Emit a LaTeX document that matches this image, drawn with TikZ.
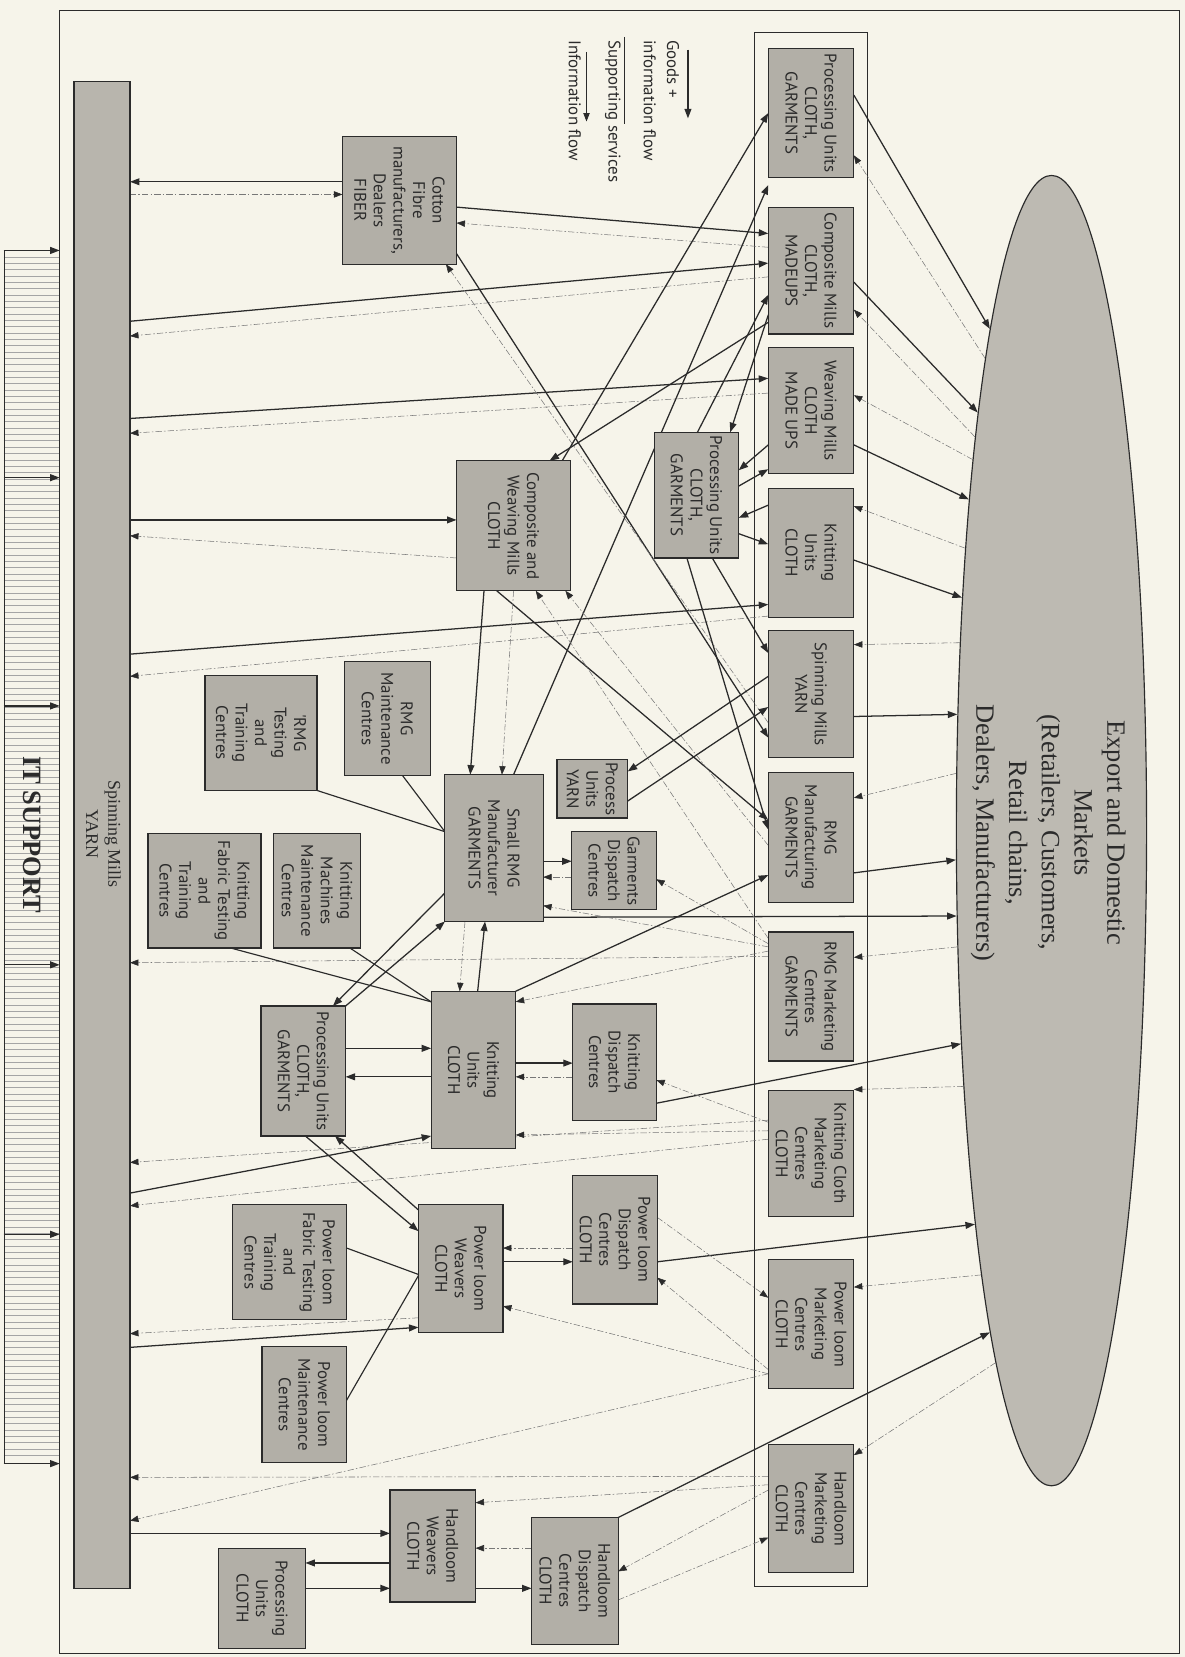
\documentclass[tikz,border=0pt]{standalone}
\usepackage{fontspec}
\setmainfont{Liberation Serif}
\newfontfamily\cellfont{PT Sans}
\usetikzlibrary{arrows.meta,shapes.geometric,backgrounds}
\definecolor{paper}{HTML}{F6F4EA}
\definecolor{cellgray}{HTML}{B2AFA7}
\definecolor{mktgray}{HTML}{BDBAB2}
\definecolor{bargray}{HTML}{B8B5AD}
\definecolor{ink}{HTML}{2B2B2B}
\definecolor{infogray}{HTML}{777777}
\definecolor{hatchgray}{HTML}{A5A5A5}

\begin{document}
\begin{tikzpicture}[x=1pt,y=-1pt,
    cell/.style={draw=ink,line width=1.1pt,fill=cellgray,inner sep=0pt,outer sep=0pt},
    celltext/.style={rotate=-90,align=center,inner sep=0pt,text=ink,
      font=\cellfont\fontsize{16}{18.5}\selectfont},
    legendtext/.style={rotate=-90,anchor=west,inner sep=0pt,text=ink,
      font=\cellfont\fontsize{16}{18.5}\selectfont},
    goods/.style={draw=ink,line width=1.2pt,-{Triangle[length=9pt,width=6.5pt]}},
    support/.style={draw=ink,line width=1.1pt},
    info/.style={draw=infogray,line width=0.5pt,
      dash pattern=on 6pt off 2pt on 1.5pt off 2pt,
      -{Triangle[length=8pt,width=6pt,color=ink]}}]
  \useasboundingbox (0,0) rectangle (1121,1568);

  % markets
  \node[ellipse,draw=ink,line width=1.1pt,fill=mktgray,inner sep=0pt,
    minimum width=180pt,minimum height=1240pt] (mk) at (995,786) {};
  \node[rotate=-90,align=center,text=ink,font=\fontsize{25}{31}\selectfont]
    (mk-t) at (992,788) {Export and Domestic\\Markets\\(Retailers, Customers,\\Retail chains,\\Dealers, Manufacturers)};

  % spinning mills bar and IT support
  \node[cell,fill=bargray,minimum width=53pt,minimum height=1426pt] (spin) at (96.5,790) {};
  \node[rotate=-90,align=center,text=ink,font=\fontsize{17}{21}\selectfont]
    (spin-t) at (98,789) {Spinning Mills\\YARN};
  \node[draw=ink,line width=1pt,inner sep=0pt,minimum width=52pt,minimum height=1148pt] (it) at (30,811) {};
  \node[rotate=-90,text=ink,font=\bfseries\fontsize{25}{30}\selectfont] (it-t) at (30,790) {IT SUPPORT};

  % right column (inside the frame)
  \foreach \nm/\cy/\h/\txt in {
      puR/107/122/{Processing Units\\CLOTH,\\GARMENTS},
      cmR/256/120/{Composite Mills\\CLOTH,\\MADEUPS},
      wvR/388.5/119/{Weaving Mills\\CLOTH\\MADE UPS},
      knR/523/122/{Knitting\\Units\\CLOTH},
      spR/657/120/{Spinning Mills\\YARN},
      rmR/792.5/123/{RMG\\Manufacturing\\GARMENTS},
      rmkR/943/122/{RMG Marketing\\Centres\\GARMENTS},
      kmkR/1091.5/119/{Knitting Cloth\\Marketing\\Centres\\CLOTH},
      pmkR/1253/122/{Power loom\\Marketing\\Centres\\CLOTH},
      hmkR/1427.5/121/{Handloom\\Marketing\\Centres\\CLOTH}} {
    \node[cell,minimum width=81pt,minimum height=\h pt] (\nm) at (767.5,\cy) {};
    \node[celltext] (\nm-t) at (\nm) {\txt};
  }

  % producers, dispatch and service centres
  \foreach \nm/\cx/\cy/\w/\h/\txt in {
      cot/378/189.5/108/121/{Cotton\\Fibre\\manufacturers,\\Dealers\\FIBER},
      cw/486/497.5/108/123/{Composite and\\Weaving Mills\\CLOTH},
      puM/659/468.5/80/119/{Processing Units\\CLOTH,\\GARMENTS},
      rmgM/366.5/680/81/108/{RMG\\Maintenance\\Centres},
      rmgT/247/693.5/106/109/{'RMG\\Testing\\and\\Training\\Centres},
      puY/560.5/746.5/67/55/{Process\\Units\\YARN},
      srmg/467.5/802.5/93/139/{Small RMG\\Manufacturer\\GARMENTS},
      gdc/581/824/80/74/{Garments\\Dispatch\\Centres},
      kmm/300/843/82/108/{Knitting\\Machines\\Maintenance\\Centres},
      kft/193.5/843/107/108/{Knitting\\Fabric Testing\\and\\Training\\Centres},
      knL/448/1012.5/80/149/{Knitting\\Units\\CLOTH},
      kdc/581.5/1005/79/110/{Knitting\\Dispatch\\Centres},
      puL/287/1013.5/80/123/{Processing Units\\CLOTH,\\GARMENTS},
      pdc/582/1173/80/122/{Power loom\\Dispatch\\Centres\\CLOTH},
      plw/436/1200.5/80/121/{Power loom\\Weavers\\CLOTH},
      plft/274/1194.5/108/109/{Power loom\\Fabric Testing\\and\\Training\\Centres},
      plm/288/1329/80/110/{Power loom\\Maintenance\\Centres},
      hlw/409.5/1463/81/106/{Handloom\\Weavers\\CLOTH},
      hdc/544/1496/82/120/{Handloom\\Dispatch\\Centres\\CLOTH},
      hlp/248/1512.5/82/95/{Processing\\Units\\CLOTH}} {
    \node[cell,minimum width=\w pt,minimum height=\h pt] (\nm) at (\cx,\cy) {};
    \node[celltext] (\nm-t) at (\nm) {\txt};
  }

  % legend
  \coordinate (lgG1) at (651,47);  \coordinate (lgG2) at (651,112);
  \coordinate (lgS1) at (591,35);  \coordinate (lgS2) at (591,117);
  \coordinate (lgI1) at (555,49);  \coordinate (lgI2) at (555,115);
  \node[legendtext] (lgG-t) at (637,38) {Goods +};
  \node[legendtext] (lgG-t2) at (615,38) {information flow};
  \node[legendtext] (lgS-t) at (580,38) {Supporting services};
  \node[legendtext] (lgI-t) at (544,38) {Information flow};

  \begin{scope}[on background layer]
    \fill[paper] (0,0) rectangle (1121,1568);
    \draw[ink,line width=1pt] (56,9.5) rectangle (1116,1565);
    \draw[ink,line width=1pt] (714,31) rectangle (821,1501);

    % IT support hatching and arrows
    \foreach \yy in {243,249,...,1381}
      \draw[hatchgray,line width=0.35pt] (it.west |- 0,\yy) -- (it.east |- 0,\yy);
    \foreach \yy in {237,452,668,913,1168,1385}
      \draw[goods] (it.west |- 0,\yy) -- (it.east |- 0,\yy);

    % legend lines
    \draw[goods] (lgG1) -- (lgG2);
    \draw[support] (lgS1) -- (lgS2);
    \draw[draw=ink,line width=0.8pt,-{Triangle[length=8pt,width=6pt]}] (lgI1) -- (lgI2);

    % spinning mills bar
    \draw[goods] (cot.west |- 0,172) -- (spin.east |- 0,172);
    \draw[info] (spin.east |- 0,184) -- (cot.west |- 0,184);
    \draw[goods] (spin.east |- 0,304) -- (cmR.west |- 0,249);
    \draw[info] (cmR.west |- 0,262) -- (spin.east |- 0,318);
    \draw[goods] (spin.east |- 0,396) -- (wvR.west |- 0,358);
    \draw[info] (wvR.west |- 0,372) -- (spin.east |- 0,410);
    \draw[goods] (spin.east |- 0,492) -- (cw.west |- 0,492);
    \draw[info] (cw.west |- 0,528) -- (spin.east |- 0,507);
    \draw[goods] (spin.east |- 0,619) -- (knR.west |- 0,572);
    \draw[info] (knR.west |- 0,583) -- (spin.east |- 0,640);
    \draw[info] (rmkR.west |- 0,905) -- (spin.east |- 0,911);
    \draw[info] (kmkR.west |- 0,1060) -- (spin.east |- 0,1100);
    \draw[goods] (spin.east |- 0,1129) -- (knL.west |- 0,1075);
    \draw[info] (kmkR.west |- 0,1078) -- (spin.east |- 0,1141);
    \draw[info] (plw.west |- 0,1247) -- (spin.east |- 0,1262);
    \draw[goods] (spin.east |- 0,1275) -- (plw.west |- 0,1256);
    \draw[info] (pmkR.west |- 0,1300) -- (spin.east |- 0,1439);
    \draw[info] (hmkR.west |- 0,1397) -- (spin.east |- 0,1398);
    \draw[goods] (spin.east |- 0,1451) -- (hlw.west |- 0,1451);

    % cotton fibre
    \draw[goods] (cot.east |- 0,196) -- (cmR.west |- 0,221);
    \draw[info] (cmR.west |- 0,234) -- (cot.east |- 0,211);
    \draw[goods] (cot.east |- 0,240) -- (spR.west |- 0,698);
    \draw[info] (spR.west |- 0,684) -- (cot.south -| 422,0);

    % right column to markets
    \draw[goods] (puR.east |- 0,90) -- (mk.97);
    \draw[info] (mk.98) -- (puR.east |- 0,147);
    \draw[goods] (cmR.east |- 0,267) -- (mk.100);
    \draw[info] (mk.101) -- (cmR.east |- 0,293);
    \draw[goods] (wvR.east |- 0,421) -- (mk.104);
    \draw[info] (mk.102) -- (wvR.east |- 0,374);
    \draw[goods] (knR.east |- 0,530) -- (mk.111);
    \draw[info] (mk.107) -- (knR.east |- 0,479);
    \draw[goods] (spR.east |- 0,678) -- (mk.129);
    \draw[info] (mk.116) -- (spR.east |- 0,610);
    \draw[goods] (rmR.east |- 0,826) -- (mk.197);
    \draw[info] (mk.149) -- (rmR.east |- 0,755);
    \draw[goods] (srmg.east |- 0,868) -- (mk.222);
    \draw[info] (mk.231) -- (rmkR.east |- 0,906);
    \draw[goods] (kdc.east |- 0,1044) -- (mk.247);
    \draw[info] (mk.251) -- (kmkR.east |- 0,1031);
    \draw[goods] (pdc.east |- 0,1194) -- (mk.259);
    \draw[info] (mk.261) -- (pmkR.east |- 0,1218);
    \draw[goods] (hdc.north east) -- (mk.263);
    \draw[info] (mk.264) -- (hmkR.east |- 0,1377);

    % composite mills, processing units
    \draw[goods] (cw.north -| 532,0) -- (puR.west |- 0,107);
    \draw[goods] (srmg.north -| 486,0) -- (puR.west |- 0,175);
    \draw[goods] (cmR.west |- 0,305) -- (cw.north -| 520,0);
    \draw[goods] (cmR.west |- 0,298) -- (puM.north -| 691,0);
    \draw[goods] (puM.north -| 660,0) -- (cmR.west |- 0,279);
    \draw[goods] (wvR.west |- 0,421) -- (puM.east |- 0,445);
    \draw[goods] (puM.east |- 0,460) -- (wvR.west |- 0,444);
    \draw[goods] (knR.west |- 0,478) -- (puM.east |- 0,490);
    \draw[goods] (puM.east |- 0,505) -- (knR.west |- 0,515);
    \draw[goods] (puM.south -| 674,0) -- (spR.west |- 0,618);
    \draw[goods] (puM.south -| 650,0) -- (rmR.west |- 0,785);

    % composite and weaving mills
    \draw[goods] (cw.south -| 458,0) -- (srmg.north -| 445,0);
    \draw[goods] (cw.south -| 470,0) -- (rmR.west |- 0,776);
    \draw[info] (cw.south -| 486,0) -- (srmg.north -| 475,0);
    \draw[info] (rmR.west |- 0,800) -- (cw.south -| 535,0);
    \draw[info] (rmkR.west |- 0,888) -- (cw.south -| 507,0);

    % process units yarn
    \draw[goods] (spR.west |- 0,640) -- (puY.east |- 0,730);
    \draw[goods] (puY.east |- 0,758) -- (spR.west |- 0,669);

    % small RMG manufacturer
    \draw[support] (rmgM.south -| 381,0) -- (srmg.west |- 0,787);
    \draw[support] (rmgT.south east) -- (srmg.west |- 0,787);
    \draw[goods] (srmg.east |- 0,815) -- (gdc.west |- 0,815);
    \draw[info] (gdc.west |- 0,830) -- (srmg.east |- 0,830);
    \draw[info] (rmkR.west |- 0,893) -- (gdc.east |- 0,832);
    \draw[info] (rmkR.west |- 0,896) -- (srmg.east |- 0,857);
    \draw[info] (rmkR.west |- 0,900) -- (knL.east |- 0,948);
    \draw[goods] (knL.north -| 452,0) -- (srmg.south -| 459,0);
    \draw[info] (srmg.south -| 440,0) -- (knL.north -| 435,0);
    \draw[goods] (knL.north east) -- (rmR.west |- 0,828);
    \draw[goods] (srmg.west |- 0,845) -- (puL.north -| 315,0);
    \draw[goods] (puL.north east) -- (srmg.south west);

    % knitting units
    \draw[support] (kft.south -| 218,0) -- (knL.west |- 0,948);
    \draw[support] (kmm.south -| 331,0) -- (knL.west |- 0,948);
    \draw[goods] (puL.east |- 0,992) -- (knL.west |- 0,992);
    \draw[goods] (knL.west |- 0,1019) -- (puL.east |- 0,1019);
    \draw[goods] (knL.east |- 0,1006) -- (kdc.west |- 0,1006);
    \draw[info] (kdc.west |- 0,1019) -- (knL.east |- 0,1019);
    \draw[info] (kmkR.west |- 0,1062) -- (kdc.east |- 0,1022);
    \draw[info] (kmkR.west |- 0,1070) -- (knL.east |- 0,1074);

    % power loom
    \draw[goods] (puL.south -| 289,0) -- (plw.west |- 0,1165);
    \draw[goods] (plw.west |- 0,1145) -- (puL.south -| 317,0);
    \draw[goods] (plw.east |- 0,1194) -- (pdc.west |- 0,1194);
    \draw[info] (pdc.west |- 0,1181) -- (plw.east |- 0,1181);
    \draw[info] (pmkR.west |- 0,1300) -- (plw.east |- 0,1236);
    \draw[info] (pmkR.west |- 0,1296) -- (pdc.east |- 0,1209);
    \draw[info] (pdc.east |- 0,1152) -- (pmkR.west |- 0,1228);
    \draw[support] (plft.east |- 0,1181) -- (plw.west |- 0,1206);
    \draw[support] (plm.east |- 0,1325) -- (plw.west |- 0,1207);

    % handloom
    \draw[goods] (hlw.west |- 0,1479) -- (hlp.east |- 0,1479);
    \draw[goods] (hlp.east |- 0,1503) -- (hlw.west |- 0,1503);
    \draw[goods] (hlw.east |- 0,1503) -- (hdc.west |- 0,1503);
    \draw[info] (hdc.west |- 0,1465) -- (hlw.east |- 0,1465);
    \draw[info] (hmkR.west |- 0,1405) -- (hlw.east |- 0,1422);
    \draw[info] (hmkR.west |- 0,1410) -- (hdc.east |- 0,1487);
    \draw[info] (hdc.east |- 0,1514) -- (hmkR.west |- 0,1455);
  \end{scope}
\end{tikzpicture}
\end{document}
